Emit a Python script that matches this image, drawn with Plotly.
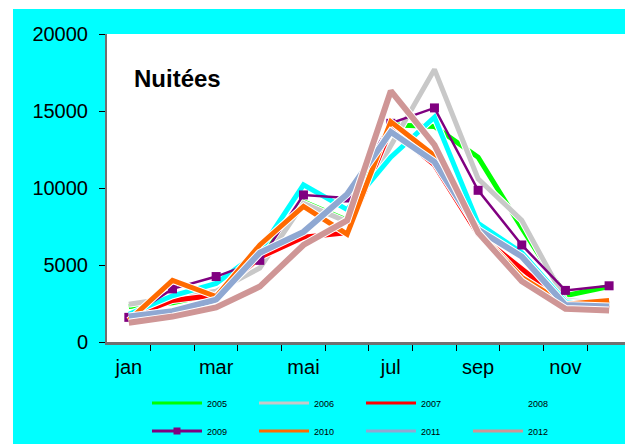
import plotly.graph_objects as go

months = ["jan", "fév", "mar", "avr", "mai", "juin", "jul", "aoû", "sep", "oct", "nov", "déc"]
tick_labels = ["jan", "mar", "mai", "jul", "sep", "nov"]

s2005 = [2300, 2550, 3150, 5600, 9100, 7900, 14100, 14000, 12000, 7400, 3000, 3600]
s2006 = [2450, 2900, 3300, 4800, 9000, 7800, 12800, 17700, 10600, 7900, 2700, 2500]
s2007 = [1600, 2700, 3050, 5500, 6800, 7100, 13800, 11500, 7000, 4700, 2500, 2200]
s2008 = [1800, 3000, 3800, 5900, 10200, 8600, 12000, 14600, 7700, 5800, 2600, 2400]
s2009 = [1600, 3450, 4250, 5300, 9550, 9350, 14200, 15200, 9850, 6300, 3350, 3650]
s2010 = [1400, 4000, 2950, 6300, 8800, 7000, 14300, 12100, 7200, 4200, 2450, 2700]
s2011 = [1650, 2000, 2750, 5800, 7150, 9600, 13650, 11700, 7300, 5550, 2400, 2300]
s2012 = [1250, 1650, 2250, 3600, 6300, 7900, 16300, 12800, 7100, 3950, 2150, 2050]

series = [
    ("2005", s2005, "#00FF00", 5, "legend"),
    ("2006", s2006, "#C8C8C8", 5, "legend"),
    ("2007", s2007, "#FF0000", 5, "legend"),
    ("2008", s2008, "#00FFFF", 5, "legend"),
    ("2009", s2009, "#800080", 2.5, "legend2"),
    ("2010", s2010, "#FF6A00", 5, "legend2"),
    ("2011", s2011, "#8FA8D2", 6, "legend2"),
    ("2012", s2012, "#CF9696", 6, "legend2"),
]

x = list(range(len(months)))
fig = go.Figure()
for name, vals, color, w, lg in series:
    if name != "2009":
        fig.add_trace(go.Scatter(x=x, y=vals, mode="lines", showlegend=False,
                                 hoverinfo="skip", line=dict(color="white", width=w + 2)))
    if name == "2009":
        fig.add_trace(go.Scatter(x=x, y=vals, mode="lines+markers", name=name, showlegend=False,
                                 line=dict(color=color, width=w),
                                 marker=dict(symbol="square", size=9, color=color)))
    else:
        fig.add_trace(go.Scatter(x=x, y=vals, mode="lines", name=name, showlegend=False,
                                 line=dict(color=color, width=w)))

# legend-only entries (thin sample lines, as in the original)
for name, vals, color, w, lg in series:
    if name == "2009":
        fig.add_trace(go.Scatter(x=[None], y=[None], mode="lines+markers", name=name, legend=lg,
                                 line=dict(color=color, width=3),
                                 marker=dict(symbol="square", size=7, color=color)))
    else:
        fig.add_trace(go.Scatter(x=[None], y=[None], mode="lines", name=name, legend=lg,
                                 line=dict(color=color, width=3)))

W, H = 625, 444
L, T, B = 107, 34, 102
pw = W - L
ph = H - T - B
cat_w = 43.66

def px_x(p):
    return (p - L) / pw

def px_y(p):
    return (H - B - p) / ph

fig.update_layout(
    width=W, height=H,
    margin=dict(l=L, r=0, t=T, b=B, autoexpand=False),
    paper_bgcolor="#00FFFF",
    plot_bgcolor="white",
    font=dict(family="Liberation Sans, Arial, sans-serif", color="black"),
    xaxis=dict(
        range=[-0.5, -0.5 + pw / cat_w], automargin=False,
        tickmode="array", tickvals=x[::2], ticktext=tick_labels,
        ticks="", showgrid=False, zeroline=False,
        showline=True, linecolor="#707070", linewidth=3,
        tickfont=dict(size=20), ticklabelstandoff=5,
        minor=dict(tickmode="array", tickvals=[i + 0.5 for i in x], ticks="outside",
                   ticklen=6, tickcolor="black", tickwidth=1, showgrid=False),
    ),
    yaxis=dict(
        range=[0, 20000], tickvals=[0, 5000, 10000, 15000, 20000], tickformat="d",
        automargin=False,
        ticks="outside", ticklen=6, tickcolor="black", tickwidth=1,
        showgrid=False, zeroline=False,
        showline=True, linecolor="#707070", linewidth=2,
        tickfont=dict(size=20), ticklabelstandoff=7,
    ),
    legend=dict(orientation="h", x=px_x(147), xanchor="left", y=px_y(403), yanchor="middle",
                bgcolor="rgba(0,0,0,0)", font=dict(size=9), entrywidth=42, itemwidth=50,
                traceorder="normal"),
    legend2=dict(orientation="h", x=px_x(147), xanchor="left", y=px_y(431), yanchor="middle",
                 bgcolor="rgba(0,0,0,0)", font=dict(size=9), entrywidth=42, itemwidth=50,
                 traceorder="normal"),
    annotations=[dict(text="<b>Nuitées</b>", xref="paper", yref="paper",
                      x=px_x(177), y=px_y(79), xanchor="center", yanchor="middle",
                      showarrow=False, font=dict(size=24, color="black"))],
    shapes=[
        dict(type="rect", xref="paper", yref="paper", x0=px_x(0), x1=px_x(W), y0=px_y(9), y1=px_y(0),
             fillcolor="white", line=dict(width=0), layer="below"),
        dict(type="rect", xref="paper", yref="paper", x0=px_x(0), x1=px_x(13), y0=px_y(H), y1=px_y(0),
             fillcolor="white", line=dict(width=0), layer="below"),
    ],
)

fig.write_html("out.html", config={"displayModeBar": False},
               post_script="document.body.style.margin='0';document.body.style.overflow='hidden';")
